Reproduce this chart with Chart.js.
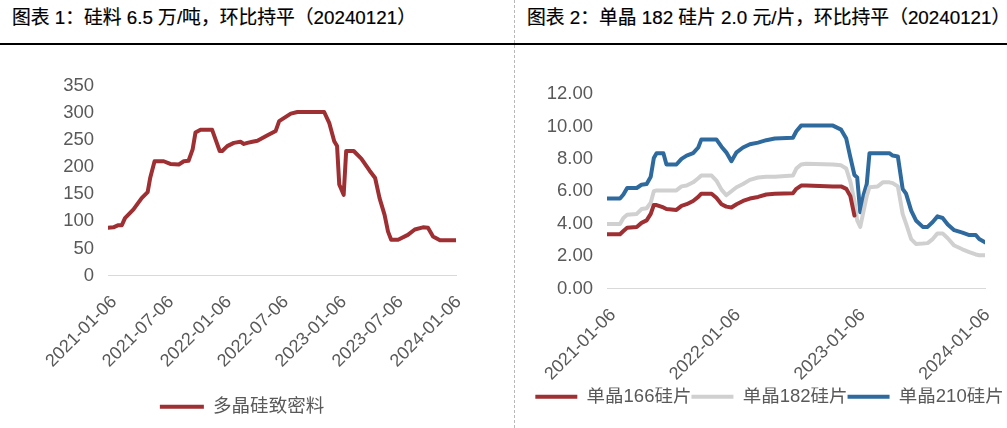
<!DOCTYPE html>
<html>
<head>
<meta charset="utf-8">
<script src="https://cdn.jsdelivr.net/npm/chart.js@4"></script>
<style>
  html, body { margin: 0; padding: 0; background: #fff; }
  body { width: 1007px; height: 428px; position: relative; overflow: hidden; }
  .title { position: absolute; top: 2px; font: 18.8px "Liberation Sans", "Noto Sans CJK SC", sans-serif; color: #000;
           white-space: nowrap; -webkit-text-stroke: 0.2px #000; }
  .rule { position: absolute; left: 0; top: 43px; width: 1007px; height: 2px; background: #000; }
  .sep { position: absolute; left: 514px; top: 0; height: 428px; border-left: 1px dashed #b8b8b8; }
  .box { position: absolute; top: 50px; height: 378px; }
</style>
</head>
<body>
<div class="title" style="left:12px">图表 1：硅料 6.5 万/吨，环比持平（20240121）</div>
<div class="title" style="left:527px">图表 2：单晶 182 硅片 2.0 元/片，环比持平（20240121）</div>
<div class="rule"></div>
<div class="sep"></div>
<div class="box" style="left:0;width:514px"><canvas id="polyChart"></canvas></div>
<div class="box" style="left:516px;width:491px"><canvas id="waferChart"></canvas></div>
<script>
// ---------- 图表1：多晶硅致密料 ----------
const polyDates = [
  '2021-01-06','2021-01-23','2021-02-08','2021-02-19','2021-03-01','2021-03-28','2021-04-23','2021-05-12',
  '2021-05-20','2021-06-03','2021-07-02','2021-07-23','2021-08-19','2021-09-04','2021-09-19','2021-10-02',
  '2021-10-11','2021-10-27','2021-12-03','2021-12-14','2021-12-27','2022-01-04','2022-01-20','2022-02-10',
  '2022-03-03','2022-03-14','2022-03-25','2022-04-10','2022-04-26','2022-05-28','2022-06-23','2022-07-04',
  '2022-07-20','2022-08-10','2022-08-31','2022-11-24','2022-12-10','2022-12-26','2023-01-04','2023-01-11',
  '2023-01-25','2023-02-02','2023-02-26','2023-03-22','2023-04-17','2023-05-05','2023-05-19','2023-06-04',
  '2023-06-15','2023-06-25','2023-07-17','2023-08-17','2023-09-08','2023-10-04','2023-10-20','2023-11-05',
  '2023-11-27','2024-01-17'
];
const polyPrice = [
  88, 89, 93, 93, 106, 122, 143, 154,
  180, 211, 211, 206, 205, 211, 212, 233,
  264, 269, 269, 251, 230, 230, 239, 245,
  247, 243, 245, 247, 249, 259, 267, 285,
  291, 299, 302, 302, 282, 248, 239, 168,
  149, 230, 230, 216, 194, 180, 143, 112,
  81, 66, 66, 75, 85, 89, 88, 72,
  65, 65
];
const polyTicks = ['2021-01-06','2021-07-06','2022-01-06','2022-07-06','2023-01-06','2023-07-06','2024-01-06'];

// ---------- 图表2：单晶硅片 ----------
const waferDates = [
  '2021-01-06','2021-02-13','2021-02-23','2021-03-06','2021-04-03','2021-04-17','2021-05-02','2021-05-14',
  '2021-05-23','2021-05-31','2021-06-20','2021-06-29','2021-07-28','2021-08-12','2021-08-27','2021-09-15',
  '2021-09-30','2021-10-09','2021-11-08','2021-11-22','2021-12-07','2021-12-21','2022-01-05','2022-01-20',
  '2022-02-08','2022-02-28','2022-03-24','2022-04-17','2022-05-12','2022-07-04','2022-07-14','2022-07-28',
  '2022-08-12','2022-10-29','2022-11-22','2022-12-07','2022-12-19','2022-12-31','2023-01-08','2023-01-17',
  '2023-01-27','2023-02-05','2023-02-13','2023-03-09','2023-03-24','2023-04-12','2023-04-22','2023-05-07',
  '2023-05-21','2023-05-31','2023-06-15','2023-06-29','2023-07-19','2023-08-02','2023-08-17','2023-08-31',
  '2023-09-15','2023-09-30','2023-10-19','2023-11-12','2023-12-02','2023-12-21','2023-12-31','2024-01-17'
];
const wafer166 = [
  3.35, 3.35, 3.55, 3.75, 3.8, 4.05, 4.2, 4.6,
  5.15, 5.15, 5.0, 4.9, 4.85, 5.1, 5.2, 5.4,
  5.65, 5.85, 5.85, 5.6, 5.2, 5.05, 5.0, 5.2,
  5.4, 5.55, 5.65, 5.8, 5.85, 5.88, 6.15, 6.35,
  6.35, 6.3, 6.3, 6.15, 5.7, 4.5, null, null,
  null, null, null, null, null, null, null, null,
  null, null, null, null, null, null, null, null,
  null, null, null, null, null, null, null, null
];
const wafer182 = [
  3.98, 3.98, 4.35, 4.55, 4.6, 4.9, 4.95, 5.3,
  6.0, 6.05, 6.05, 6.05, 6.05, 6.3, 6.35, 6.55,
  6.8, 6.97, 6.97, 6.66, 6.1, 5.75, 6.0, 6.25,
  6.45, 6.7, 6.85, 6.9, 6.9, 6.97, 7.4, 7.65,
  7.7, 7.65, 7.6, 7.4, 6.6, 5.4, 4.2, 3.8,
  4.8, 5.7, 6.25, 6.3, 6.55, 6.55, 6.5, 6.3,
  4.6, 4.0, 3.05, 2.75, 2.77, 2.8, 3.05, 3.4,
  3.4, 3.1, 2.65, 2.42, 2.25, 2.1, 2.05, 2.05
];
const wafer210 = [
  5.55, 5.55, 5.8, 6.2, 6.2, 6.4, 6.45, 6.9,
  8.05, 8.35, 8.35, 7.65, 7.65, 8.0, 8.2, 8.35,
  8.7, 9.2, 9.2, 9.2, 8.75, 8.4, 7.85, 8.4,
  8.7, 8.9, 9.0, 9.15, 9.25, 9.3, 9.7, 10.05,
  10.05, 10.05, 9.8, 9.25, 8.1, 7.0, 6.85, 4.7,
  5.8, 6.45, 8.35, 8.35, 8.35, 8.35, 8.2, 8.15,
  6.15, 5.85, 4.8, 4.2, 3.8, 3.8, 4.1, 4.45,
  4.35, 3.95, 3.6, 3.45, 3.3, 3.3, 3.05, 2.85
];
const waferTicks = ['2021-01-06','2022-01-06','2023-01-06','2024-01-06'];

// ---------- 工具 ----------
const DAY0 = Date.parse('2021-01-06');
const toDay = s => Math.round((Date.parse(s) - DAY0) / 86400000);
const points = (dates, vals) => dates.map((d, i) => ({ x: toDay(d), y: vals[i] }));
const LAST = toDay('2024-01-17');
const tickColor = '#595959';
const zeroLine = '#d9d9d9';
const latin = '"Liberation Sans", Arial, sans-serif';

// 图例整体水平平移
const legendShift = {
  id: 'legendShift',
  afterLayout(chart, args, opts) {
    const l = chart.legend;
    if (l && opts.dx) { l.left += opts.dx; l.right += opts.dx; }
  }
};

function lineSet(label, data, color) {
  return { label, data, borderColor: color, backgroundColor: color, borderWidth: 4,
           pointRadius: 0, tension: 0, borderJoinStyle: 'round', borderCapStyle: 'round', spanGaps: false };
}

function makeOptions(cfg) {
  return {
    responsive: true,
    maintainAspectRatio: false,
    animation: false,
    layout: { padding: cfg.padding },
    plugins: {
      tooltip: { enabled: false },
      legendShift: { dx: cfg.legendDx },
      legend: {
        position: 'bottom',
        labels: {
          boxWidth: cfg.boxW, boxHeight: 4, padding: cfg.legendGap, color: tickColor,
          font: { size: 18.5, family: '"Liberation Sans", "Noto Sans CJK SC", sans-serif' },
          generateLabels: chart => Chart.defaults.plugins.legend.labels.generateLabels(chart)
            .map(l => ({ ...l, lineWidth: 0, fillStyle: l.strokeStyle }))
        }
      }
    },
    scales: {
      x: {
        type: 'linear', min: 0, max: LAST,
        grid: { display: false, drawTicks: false },
        border: { display: true, color: zeroLine, width: 1 },
        afterBuildTicks: s => { s.ticks = cfg.ticks.map(t => ({ value: toDay(t) })); },
        afterFit: s => { s.height = cfg.xHeight; s.paddingRight = cfg.plotRight; },
        ticks: {
          autoSkip: false, minRotation: 45, maxRotation: 45, padding: 16, labelOffset: 6,
          color: tickColor, font: { size: 18, family: latin },
          callback: (v, i) => cfg.ticks[i]
        }
      },
      y: {
        min: 0, max: cfg.yMax,
        grid: { display: false, drawTicks: false },
        border: { display: false },
        afterFit: s => { s.width = cfg.yWidth; },
        ticks: {
          stepSize: cfg.yStep, padding: 14, color: tickColor,
          font: { size: 18.5, family: latin },
          callback: cfg.yFmt
        }
      }
    }
  };
}

new Chart(document.getElementById('polyChart'), {
  type: 'line',
  data: { datasets: [lineSet('多晶硅致密料', points(polyDates, polyPrice), '#9e2f32')] },
  options: makeOptions({
    padding: { top: 36, right: 58, left: 28, bottom: 2 },
    ticks: polyTicks, xHeight: 112, plotRight: 0, legendGap: 10, legendDx: 0, boxW: 44,
    yMax: 350, yStep: 50, yWidth: 80,
    yFmt: v => v
  }),
  plugins: [legendShift]
});

new Chart(document.getElementById('waferChart'), {
  type: 'line',
  data: { datasets: [
    lineSet('单晶166硅片', points(waferDates, wafer166), '#9e2f32'),
    lineSet('单晶182硅片', points(waferDates, wafer182), '#d0d0d0'),
    lineSet('单晶210硅片', points(waferDates, wafer210), '#2f6a9e')
  ] },
  options: makeOptions({
    padding: { top: 44, right: 0, left: 0, bottom: 12 },
    ticks: waferTicks, xHeight: 99, plotRight: 22, legendGap: 0, legendDx: 8, boxW: 42,
    yMax: 12, yStep: 2, yWidth: 91,
    yFmt: v => v.toFixed(2)
  }),
  plugins: [legendShift]
});
</script>
</body>
</html>
